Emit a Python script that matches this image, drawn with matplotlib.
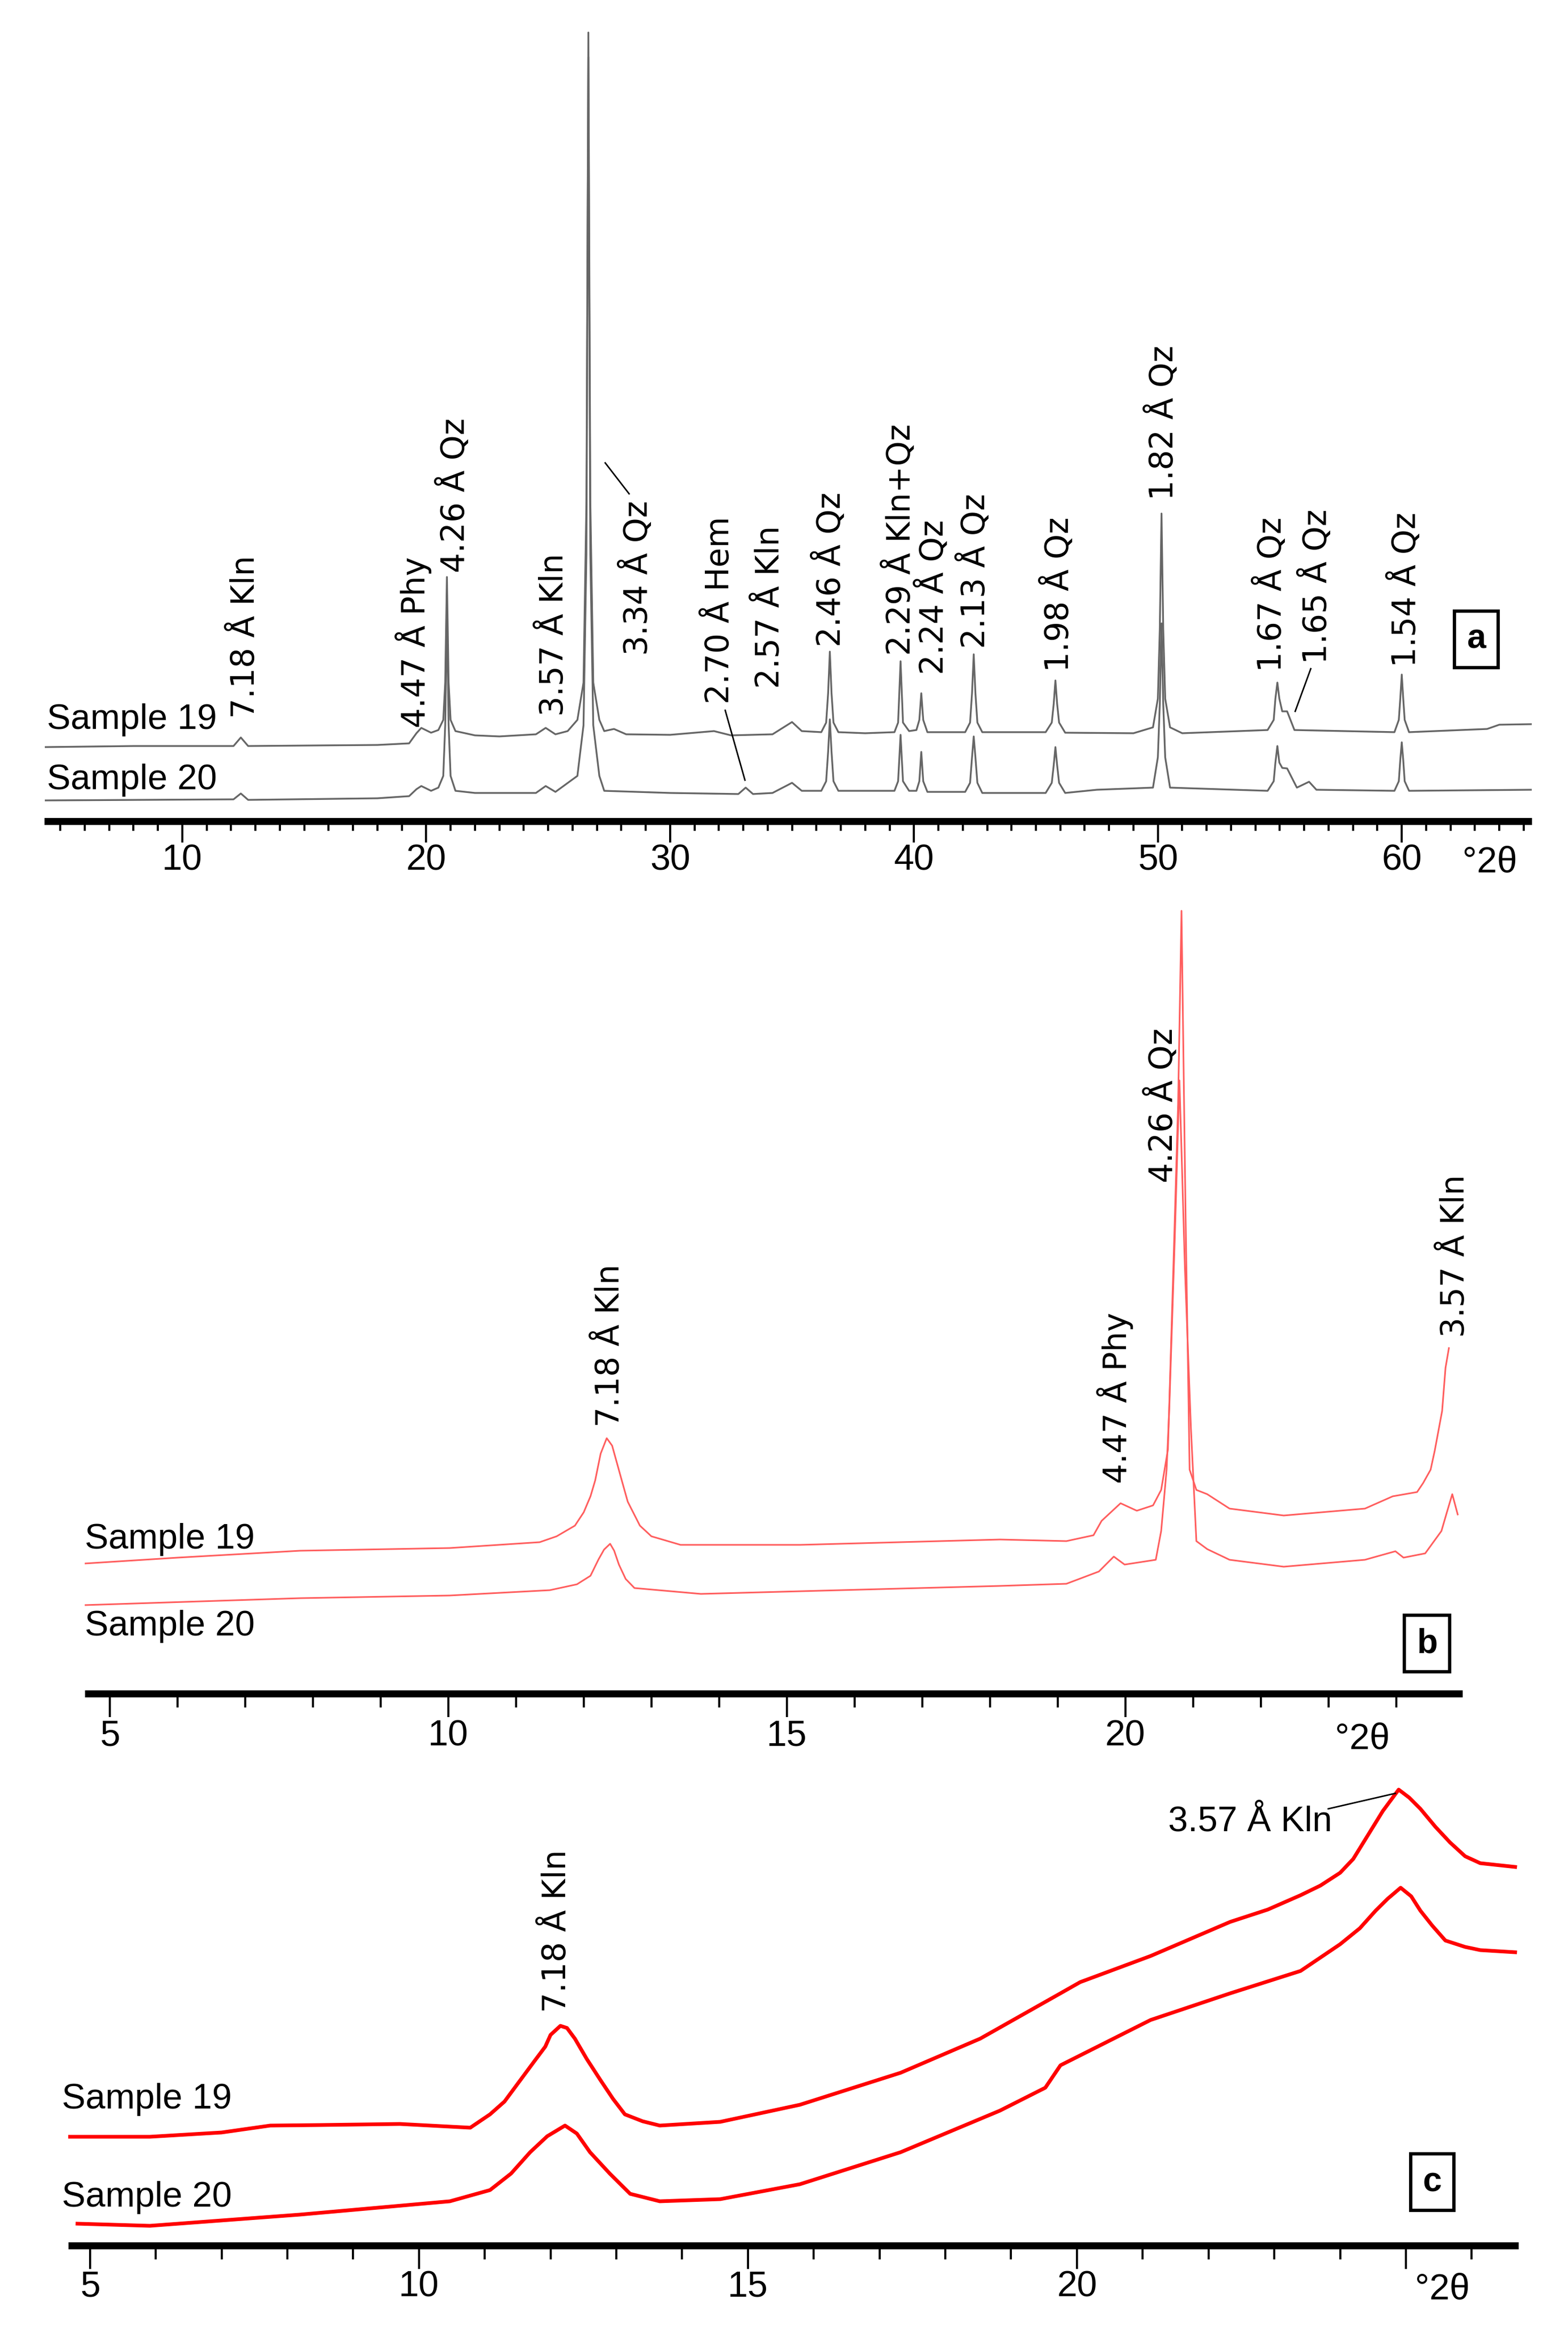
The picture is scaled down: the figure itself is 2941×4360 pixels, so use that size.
import matplotlib
matplotlib.use("Agg")
import matplotlib.pyplot as plt
from matplotlib.ticker import MultipleLocator

plt.rcParams['font.family'] = ['Liberation Sans', 'DejaVu Sans']

W, H = 2941, 4360

# ---------------- panel a : full scan (grey) ----------------
a_x19 = [4.4, 8, 12.1, 12.4, 12.7, 18.0, 19.3, 19.6, 19.8, 20.2, 20.5, 20.7, 20.78, 20.85, 20.92, 21.0,
         21.2, 22.0, 23.0, 24.5, 24.9, 25.3, 25.8, 26.2, 26.45, 26.57, 26.65, 26.73, 26.85, 27.1, 27.3,
         27.7, 28.2, 30, 31.8, 32.5, 34.2, 35.0, 35.4, 36.2, 36.4, 36.48, 36.55, 36.62, 36.7, 36.9, 38,
         39.2, 39.35, 39.45, 39.55, 39.8, 40.1, 40.22, 40.3, 40.38, 40.55, 42.1, 42.3, 42.38, 42.45,
         42.52, 42.6, 42.8, 45.4, 45.65, 45.73, 45.8, 45.87, 45.95, 46.2, 49.0, 49.8, 50.0, 50.08,
         50.15, 50.22, 50.3, 50.5, 51.0, 54.5, 54.75, 54.82, 54.9, 54.98, 55.1, 55.3, 55.6, 59.7,
         59.88, 59.94, 60.0, 60.06, 60.12, 60.3, 63.5, 64, 65.3]
a_y19 = [139, 141, 141, 157, 141, 143, 146, 165, 175, 166, 171, 190, 260, 458, 260, 190,
         169, 161, 159, 163, 175, 163, 169, 190, 260, 600, 1479, 600, 260, 190, 169,
         173, 163, 162, 169, 161, 163, 186, 169, 167, 185, 240, 318, 240, 185, 167, 165,
         167, 185, 300, 185, 169, 171, 190, 240, 190, 167, 167, 185, 240, 313,
         240, 185, 167, 167, 185, 220, 264, 220, 185, 166, 165, 176, 230, 360,
         577, 360, 230, 176, 165, 171, 190, 230, 260, 230, 206, 206, 171, 167,
         190, 230, 275, 230, 190, 167, 173, 181, 182]

a_x20 = [4.4, 12.1, 12.4, 12.7, 18, 19.3, 19.6, 19.8, 20.2, 20.5, 20.7, 20.78, 20.85, 20.92, 21.0, 21.2,
         22.0, 24.5, 24.9, 25.3, 26.2, 26.45, 26.57, 26.65, 26.73, 26.85, 27.1, 27.3, 30, 32.8, 33.1,
         33.4, 34.2, 35.0, 35.4, 36.2, 36.4, 36.48, 36.55, 36.62, 36.7, 36.9, 39.2, 39.35, 39.45, 39.55,
         39.8, 40.1, 40.22, 40.3, 40.38, 40.55, 42.1, 42.3, 42.38, 42.45, 42.52, 42.6, 42.8, 45.4,
         45.65, 45.73, 45.8, 45.87, 45.95, 46.2, 47.5, 49.8, 50.0, 50.08, 50.15, 50.22, 50.3, 50.5,
         54.5, 54.75, 54.82, 54.9, 54.98, 55.1, 55.3, 55.7, 56.2, 56.5, 59.7, 59.88, 59.94, 60.0,
         60.06, 60.12, 60.3, 65.3]
a_y20 = [39, 41, 52, 40, 43, 47, 60, 66, 57, 63, 85, 180, 391, 180, 85, 57,
         53, 53, 66, 55, 85, 180, 500, 1433, 500, 180, 85, 57, 53, 51, 63,
         51, 53, 72, 57, 57, 75, 130, 191, 130, 75, 57, 57, 75, 162, 75,
         57, 57, 75, 130, 75, 55, 55, 72, 120, 159, 120, 72, 53, 53,
         72, 105, 139, 105, 72, 53, 59, 63, 120, 220, 371, 220, 120, 63,
         57, 75, 110, 141, 110, 100, 99, 63, 74, 59, 57, 75, 115, 148,
         115, 75, 57, 59]

a_labels = ["7.18 Å Kln", "4.47 Å Phy", "4.26 Å Qz", "3.57 Å Kln", "3.34 Å Qz", "2.70 Å Hem",
            "2.57 Å Kln", "2.46 Å Qz", "2.29 Å Kln+Qz", "2.24 Å Qz", "2.13 Å Qz", "1.98 Å Qz",
            "1.82 Å Qz", "1.67 Å Qz", "1.65 Å Qz", "1.54 Å Qz"]
a_label_x = [12.6, 19.47, 21.15, 25.26, 28.65, 32.04, 34.1, 36.56, 39.43, 40.78, 42.49, 45.92,
             50.2, 54.64, 56.5, 60.15]
a_label_y = [193, 175, 466, 197, 311, 220, 249, 327, 311, 275, 324, 280, 602, 280, 295, 289]
a_leaders = [(27.34, 672, 28.32, 614), (32.26, 208, 33.07, 77), (56.27, 286, 55.63, 206)]

# ---------------- panel b : low-angle scan (light red) ----------------
b_x19 = [4.63, 6.0, 7.81, 10.02, 11.35, 11.6, 11.87, 12.0, 12.1, 12.17, 12.25, 12.34, 12.42, 12.54,
         12.65, 12.83, 13.0, 13.43, 15.2, 18.15, 19.13, 19.53, 19.65, 19.93, 20.17, 20.41, 20.53,
         20.63, 20.71, 20.78, 20.83, 20.89, 20.95, 21.05, 21.21, 21.54, 22.34, 23.54, 23.95, 24.31,
         24.4, 24.51, 24.57, 24.63, 24.68, 24.73, 24.78]
b_y19 = [244, 255, 268, 273, 284, 295, 315, 340, 370, 400, 450, 479, 465, 410,
         360, 315, 295, 279, 279, 289, 286, 297, 324, 357, 343, 353, 382,
         458, 800, 1105, 1468, 900, 420, 382, 374, 347, 334, 347, 370, 378,
         395, 420, 455, 496, 530, 611, 648]

b_x20 = [4.63, 7.81, 10.02, 11.5, 11.9, 12.1, 12.22, 12.3, 12.39, 12.45, 12.52, 12.62, 12.75, 13.73,
         18.15, 19.13, 19.61, 19.83, 19.99, 20.45, 20.53, 20.61, 20.65, 20.73, 20.8, 20.88, 20.97,
         21.05, 21.21, 21.54, 22.34, 23.54, 23.99, 24.11, 24.43, 24.67, 24.75, 24.83, 24.91]
b_y20 = [166, 179, 184, 194, 205, 221, 252, 270, 281, 268, 242, 215, 198, 187,
         202, 206, 229, 257, 242, 251, 305, 420, 535, 850, 1150, 800, 496,
         286, 271, 251, 238, 251, 267, 255, 263, 305, 340, 374, 336]

b_labels = ["7.18 Å Kln", "4.47 Å Phy", "4.26 Å Qz", "3.57 Å Kln"]
b_label_x = [12.39, 19.85, 20.55, 24.87]
b_label_y = [500, 394, 958, 668]

# ---------------- panel c : low-angle scan (red, noisy) ----------------
c_x19 = [4.67, 5.91, 7.0, 7.74, 8.5, 9.71, 10.78, 11.08, 11.3, 11.54, 11.75, 11.92, 12.0, 12.15,
         12.25, 12.37, 12.55, 12.76, 12.95, 13.13, 13.4, 13.66, 14.58, 15.79, 17.32, 18.53, 19.75,
         20.05, 21.12, 22.33, 22.9, 23.4, 23.7, 24.0, 24.2, 24.46, 24.65, 24.89, 25.05, 25.22, 25.45,
         25.67, 25.9, 26.13, 26.66]
c_y19 = [204, 204, 212, 225, 226, 228, 221, 246, 270, 310, 345, 373, 395, 412,
         408, 388, 350, 310, 275, 246, 233, 225, 232, 264, 324, 388, 473,
         494, 543, 607, 630, 657, 675, 699, 725, 777, 815, 855, 840, 819, 785,
         756, 730, 717, 710]

c_x20 = [4.81, 5.91, 8.19, 10.47, 11.08, 11.4, 11.69, 11.95, 12.22, 12.4, 12.6, 12.9, 13.21, 13.66,
         14.58, 15.79, 17.32, 18.83, 19.52, 19.75, 21.12, 22.33, 23.4, 23.7, 24.0, 24.3, 24.54,
         24.72, 24.92, 25.08, 25.22, 25.4, 25.6, 25.9, 26.13, 26.66]
c_y20 = [41, 37, 58, 83, 104, 135, 175, 205, 225, 210, 175, 135, 97, 83,
         87, 115, 175, 253, 296, 338, 423, 473, 515, 540, 565, 595, 628,
         650, 671, 655, 628, 600, 572, 560, 554, 550]

c_label = "7.18 Å Kln"
c_label_x, c_label_y = 12.1, 437
c_kln = "3.57 Å Kln"
c_kln_x, c_kln_y = 22.63, 795
c_leader = (23.82, 819, 24.84, 848)


def add_panel(fig, left, right, top, bottom):
    return fig.add_axes([left / W, 1 - bottom / H, (right - left) / W, (bottom - top) / H])


def style_axis(ax, xlim, ylim, major, major_len, minor_len, pad):
    ax.set_xlim(*xlim)
    ax.set_ylim(*ylim)
    for side in ("left", "right", "top"):
        ax.spines[side].set_visible(False)
    ax.spines["bottom"].set_linewidth(9.5)
    ax.spines["bottom"].set_capstyle("butt")
    ax.xaxis.set_major_locator(MultipleLocator(major))
    ax.xaxis.set_minor_locator(MultipleLocator(1))
    ax.tick_params(axis="x", which="major", direction="out", length=major_len, width=2.8,
                   labelsize=49, pad=pad)
    ax.tick_params(axis="x", which="minor", direction="out", length=minor_len, width=2.8)
    ax.set_yticks([])
    ax.patch.set_alpha(0)


def sample_names(ax, x, y19, y20):
    ax.text(x, y19, "Sample 19", fontsize=48, ha="left", va="center", clip_on=False)
    ax.text(x, y20, "Sample 20", fontsize=48, ha="left", va="center", clip_on=False)


def peak_labels(ax, labels, xs, ys):
    for t, x, y in zip(labels, xs, ys):
        ax.text(x, y, t, rotation=90, ha="center", va="bottom", fontsize=43,
                family="DejaVu Sans", clip_on=False)


def panel_box(ax, x, y, letter):
    ax.text(x, y, letter, fontsize=46, fontweight="bold", ha="center", va="center",
            bbox=dict(boxstyle="square,pad=0.36", fc="white", ec="black", lw=4.5))


fig = plt.figure(figsize=(W / 100, H / 100), dpi=100)

# panel a
ax = add_panel(fig, 83, 2873, 40, 1540)
style_axis(ax, (4.34, 65.33), (0, 1500), 10, 29, 13, 1)
ax.plot(a_x19, a_y19, color="#666666", lw=2.4)
ax.plot(a_x20, a_y20, color="#666666", lw=2.4)
peak_labels(ax, a_labels, a_label_x, a_label_y)
for x0, y0, x1, y1 in a_leaders:
    ax.plot([x0, x1], [y0, y1], color="black", lw=2)
sample_names(ax, 4.45, 190, 77)
panel_box(ax, 63.06, 341, "a")
ax.text(63.6, -78, "°2θ", fontsize=49, ha="center", va="center", clip_on=False)

# panel b
ax = add_panel(fig, 159, 2743, 1690, 3176)
style_axis(ax, (4.63, 24.98), (0, 1486), 5, 32, 19, 2)
ax.plot(b_x19, b_y19, color="#ff5e5e", lw=2.2)
ax.plot(b_x20, b_y20, color="#ff5e5e", lw=2.2)
peak_labels(ax, b_labels, b_label_x, b_label_y)
sample_names(ax, 4.63, 289, 126)
panel_box(ax, 24.46, 94, "b")
ax.text(23.5, -86, "°2θ", fontsize=49, ha="center", va="center", clip_on=False)

# panel c
ax = add_panel(fig, 128, 2848, 3300, 4211)
style_axis(ax, (4.67, 26.71), (0, 911), 5, 32, 19, 1)
ax.set_xticks([5, 10, 15, 20, 25], ["5", "10", "15", "20", ""])
ax.plot(c_x19, c_y19, color="#ff0000", lw=5.0)
ax.plot(c_x20, c_y20, color="#ff0000", lw=5.0)
peak_labels(ax, [c_label], [c_label_x], [c_label_y])
ax.text(c_kln_x, c_kln_y, c_kln, fontsize=48, ha="center", va="center")
ax.plot([c_leader[0], c_leader[2]], [c_leader[1], c_leader[3]], color="black", lw=2)
sample_names(ax, 4.57, 274, 90)
panel_box(ax, 25.4, 119, "c")
ax.text(25.55, -82, "°2θ", fontsize=49, ha="center", va="center", clip_on=False)

fig.savefig("out.png", dpi=100)
